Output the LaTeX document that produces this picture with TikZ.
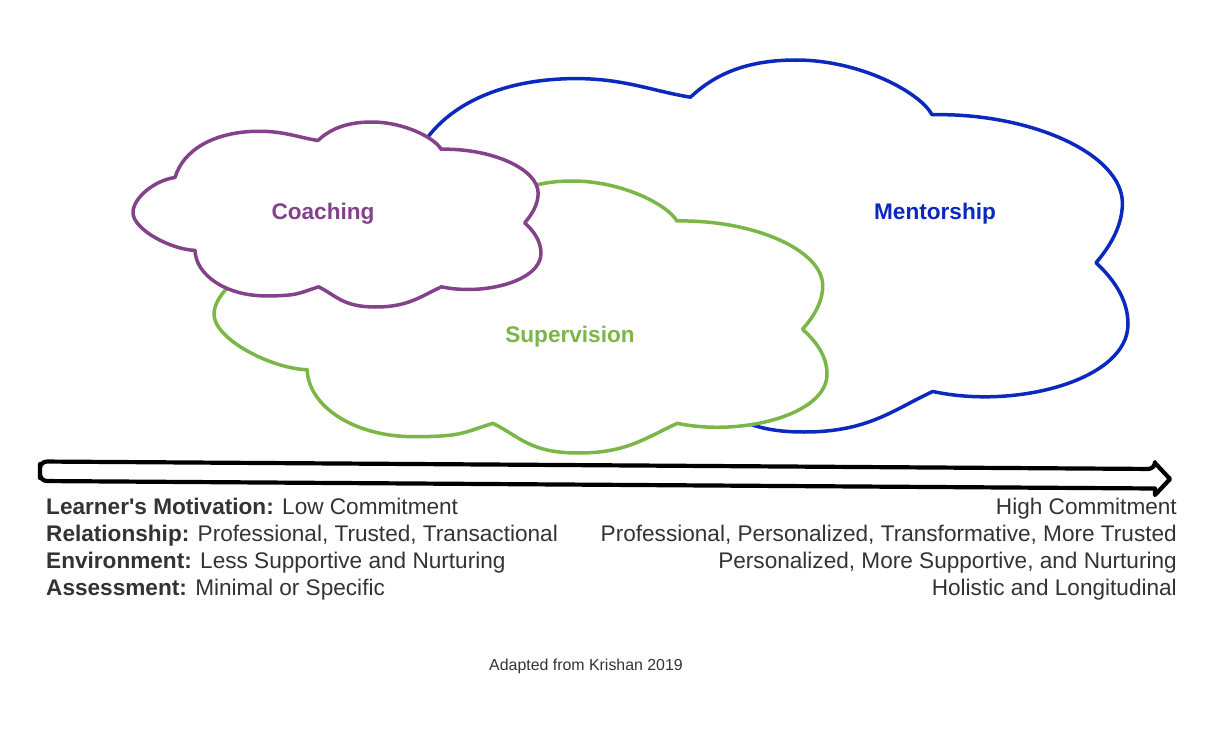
\documentclass[tikz,border=0pt]{standalone}
\usepackage{fontspec}
\setmainfont{Liberation Sans}
\usepackage{xcolor}
\definecolor{coachpurple}{RGB}{131,66,138}
\definecolor{mentorblue}{RGB}{12,41,191}
\definecolor{supergreen}{RGB}{122,182,72}
\definecolor{txtgray}{RGB}{51,51,51}

\tikzset{
  cloudline/.style={line width=3.5pt, line join=round, fill=white},
  cloudlabel/.style={anchor=base, inner sep=0pt, font=\fontsize{22.6}{27}\selectfont\bfseries},
  scaletext/.style={inner sep=0pt, text=txtgray, font=\fontsize{22.6}{27}\selectfont}
}

\begin{document}
\begin{tikzpicture}[x=1pt,y=1pt]
\useasboundingbox (0,0) rectangle (1224,-741);
% one cloud outline in a 100 x 100 box, y pointing down
\def\cloudpath{(10.3,30) .. controls (12.3,15) and (20,5) .. (31,5)
  .. controls (37,5) and (40.5,8.3) .. (45.3,10)
  .. controls (47.8,5) and (51.5,0) .. (58.5,0)
  .. controls (66.5,0) and (74,8.7) .. (75.5,14.7)
  .. controls (88,14.2) and (99.3,25.4) .. (99.3,38.5)
  .. controls (99.3,44.5) and (97.8,50) .. (96,54.5)
  .. controls (98,58.5) and (100,64) .. (100,71)
  .. controls (100,86) and (86,94) .. (75.6,89.1)
  .. controls (70.6,94.1) and (67.5,100) .. (59.5,100)
  .. controls (51.5,100) and (50,94.1) .. (45.5,89.1)
  .. controls (40.5,92.6) and (40.5,94) .. (32.5,94)
  .. controls (23,94) and (15.4,83) .. (15.2,69.4)
  .. controls (9.2,68.9) and (0,58) .. (0,49)
  .. controls (0,41) and (5.3,31.5) .. (10.3,30) -- cycle}

\begin{scope}[shift={(328,-60)}, xscale=8, yscale=-3.72]
\draw[cloudline, draw=mentorblue] \cloudpath;
\end{scope}
\begin{scope}[shift={(214,-181)}, xscale=6.13, yscale=-2.72]
\draw[cloudline, draw=supergreen] \cloudpath;
\end{scope}
\begin{scope}[shift={(133,-122)}, xscale=4.08, yscale=-1.85]
\draw[cloudline, draw=coachpurple] \cloudpath;
\end{scope}

\node[cloudlabel, text=coachpurple] (coaching) at (323,-219) {Coaching};
\node[cloudlabel, text=supergreen] (supervision) at (570,-342) {Supervision};
\node[cloudlabel, text=mentorblue] (mentorship) at (935,-219) {Mentorship};

% commitment arrow
\draw[line width=4.2pt, line join=round] (40,-471) [rounded corners=7] -- (40,-461.5) -- (1155,-469)
  [sharp corners] -- (1155,-463) -- (1170,-479) -- (1155,-495) -- (1155,-488.5)
  [rounded corners=7] -- (40,-481) -- cycle;

\node[scaletext, anchor=base west] (motivation) at (46,-514) {\textbf{Learner\textquotesingle s Motivation:} Low Commitment};
\node[scaletext, anchor=base west] (relationship) at (46,-541) {\textbf{Relationship:} Professional, Trusted, Transactional};
\node[scaletext, anchor=base west] (environment) at (46,-568) {\textbf{Environment:} Less Supportive and Nurturing};
\node[scaletext, anchor=base west] (assessment) at (46,-595) {\textbf{Assessment:} Minimal or Specific};

\node[scaletext, anchor=base east] (highmot) at (1177,-514) {High Commitment};
\node[scaletext, anchor=base east] (highrel) at (1177,-541) {Professional, Personalized, Transformative, More Trusted};
\node[scaletext, anchor=base east] (highenv) at (1177,-568) {Personalized, More Supportive, and Nurturing};
\node[scaletext, anchor=base east] (highass) at (1177,-595) {Holistic and Longitudinal};

\node[inner sep=0pt, text=txtgray, font=\fontsize{15.9}{19}\selectfont, anchor=base] (source) at (586,-670) {Adapted from Krishan 2019};
\end{tikzpicture}
\end{document}
